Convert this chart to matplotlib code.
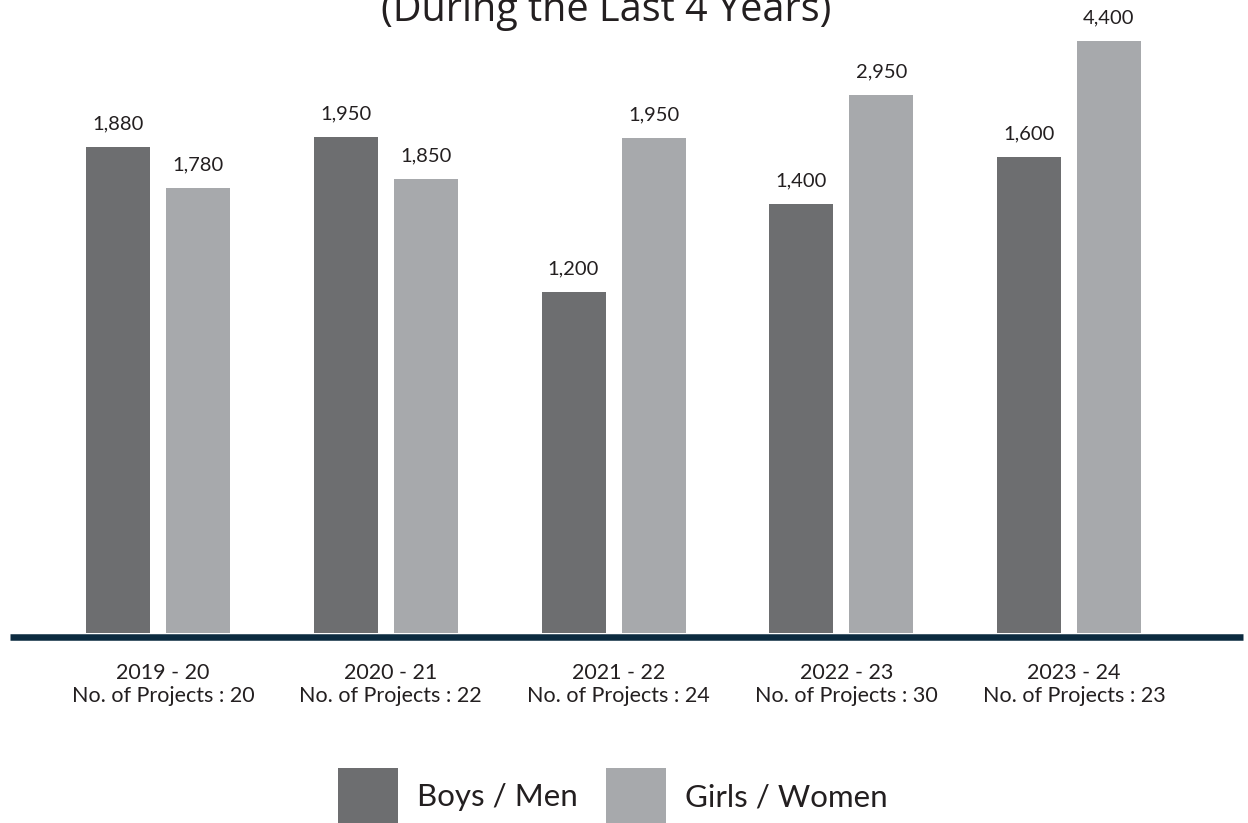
import matplotlib
matplotlib.use("Agg")
import matplotlib.pyplot as plt
import matplotlib.transforms as mtransforms
from matplotlib.patches import Rectangle
import numpy as np

# ---- data ----
periods = ["2019 - 20", "2020 - 21", "2021 - 22", "2022 - 23", "2023 - 24"]
projects = ["No. of Projects : 20", "No. of Projects : 22", "No. of Projects : 24",
            "No. of Projects : 30", "No. of Projects : 23"]
boys_values = [1880, 1950, 1200, 1400, 1600]
girls_values = [1780, 1850, 1950, 2950, 4400]
# bar heights as drawn in the reference (the source chart is not to scale)
boys_heights = [486, 496, 341, 429, 476]
girls_heights = [445, 454, 495, 538, 592]
series_names = ["Boys / Men", "Girls / Women"]
title_text = "(During the Last 4 Years)"

# ---- style ----
BOYS_C = "#6d6e70"
GIRLS_C = "#a7a9ac"
TEXT_C = "#231f20"
LINE_C = "#0c2b40"
FONT = ["Lato", "DejaVu Sans"]
plt.rcParams["font.family"] = FONT

W, H = 1248, 823
fig = plt.figure(figsize=(W / 100, H / 100), dpi=100)
fig.patch.set_facecolor("white")

base_px = 633  # baseline position from top
ax = fig.add_axes([0, (H - base_px) / H, 1, 600 / H])
ax.set_ylim(0, 600)
step = 227.75
x0 = -158 / step
ax.set_xlim(x0, x0 + W / step)
ax.axis("off")

x = np.arange(len(periods))
bw = 64 / step
off = 40 / step
bars_b = ax.bar(x - off, boys_heights, width=bw, color=BOYS_C, linewidth=0)
bars_g = ax.bar(x + off, girls_heights, width=bw, color=GIRLS_C, linewidth=0)

for bars, vals in ((bars_b, boys_values), (bars_g, girls_values)):
    for b, v in zip(bars, vals):
        ax.annotate(f"{v:,}", (b.get_x() + b.get_width() / 2, b.get_height()),
                    xytext=(0, 13), textcoords="offset points",
                    ha="center", va="baseline", fontsize=14.5, color=TEXT_C)

# baseline rule
ax.axhline(-3.5, xmin=10 / W, xmax=1243 / W, lw=4.7, color=LINE_C,
           clip_on=False, solid_capstyle="butt")

# category labels
trans = mtransforms.blended_transform_factory(ax.transData, fig.transFigure)
trans = trans + mtransforms.ScaledTranslation(5 / 100, 0, fig.dpi_scale_trans)
for xi, p, n in zip(x, periods, projects):
    ax.text(xi, (H - 679) / H, p, transform=trans, ha="center", va="baseline",
            fontsize=15.5, color=TEXT_C)
    ax.text(xi, (H - 702) / H, n, transform=trans, ha="center", va="baseline",
            fontsize=15.5, color=TEXT_C)

# title (partially cut off at the top, as in the reference)
fig.text(606 / W, 1 - 21 / H, title_text, ha="center", va="baseline",
         fontsize=28.5, color=TEXT_C, family=["Open Sans", "DejaVu Sans"])

# legend
for (sx, tx), name, col in zip(((338, 417), (606, 685)), series_names, (BOYS_C, GIRLS_C)):
    fig.add_artist(Rectangle((sx / W, 0), 60 / W, (H - 768) / H,
                             transform=fig.transFigure, facecolor=col, linewidth=0))
    fig.text(tx / W, (H - 806) / H, name, ha="left", va="baseline",
             fontsize=22.5, color=TEXT_C)

fig.savefig("out.png", dpi=100)
